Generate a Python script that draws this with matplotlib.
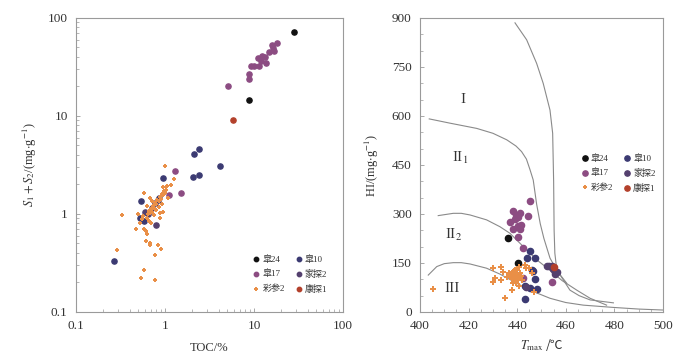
import matplotlib.pyplot as plt
import numpy as np
from matplotlib.ticker import LogLocator, MultipleLocator, NullFormatter
from matplotlib.offsetbox import TextArea, HPacker, AnchoredOffsetbox

plt.rcParams['font.family'] = ['Liberation Serif', 'Noto Sans CJK SC', 'DejaVu Sans']
plt.rcParams['mathtext.fontset'] = 'stix'

# ---- left panel: TOC (%) vs S1+S2 (mg/g) ----
toc_z24 = [28.4, 8.8]
s12_z24 = [72, 14.7]
toc_z10 = [2.1, 2.41, 4.1, 2.07, 2.39, 0.95, 0.54, 0.27, 0.53, 0.84, 0.86, 0.58]
s12_z10 = [4.06, 4.64, 3.09, 2.39, 2.48, 2.32, 1.37, 0.33, 0.9, 1.39, 1.45, 0.85]
toc_z17 = [5.06, 8.7, 8.85, 9.3, 10.1, 11.4, 11.0, 12.0, 12.3, 13.3, 13.8, 14.6,
           15.8, 16.2, 16.8, 18.0, 1.28, 1.5, 1.12]
s12_z17 = [20.2, 23.9, 27, 32.6, 32, 32.6, 38.8, 36.4, 41.2, 40.3, 34.8, 45,
           53.5, 49, 46.4, 55.6, 2.77, 1.63, 1.55]
toc_jt2 = [0.6, 0.71, 0.77, 0.8, 0.65]
s12_jt2 = [1.05, 1.14, 1.29, 0.77, 1.0]
toc_cs2 = [1.0, 1.27, 1.18, 1.03, 0.96, 1.06, 0.58, 1.09, 0.33, 0.29, 0.47, 0.58,
           0.61, 0.63, 0.61, 0.68, 0.68, 0.83, 0.91, 0.78, 0.58, 0.54, 0.78, 0.50,
           0.52, 0.885, 0.96, 0.87, 0.55, 0.57, 0.62, 0.64, 0.66, 0.68, 0.70, 0.72,
           0.74, 0.76, 0.78, 0.80, 0.82, 0.85, 0.88, 0.90, 0.93, 0.95, 0.98, 1.00,
           0.72, 0.66, 0.80, 0.75, 0.85, 0.92, 1.02, 0.70, 0.62, 0.68]
s12_cs2 = [3.07, 2.30, 1.98, 1.90, 1.87, 1.92, 1.63, 1.45, 0.97, 0.43, 0.71, 0.70,
           0.67, 0.62, 0.53, 0.51, 0.48, 0.48, 0.44, 0.38, 0.27, 0.22, 0.21, 0.99,
           0.81, 1.03, 1.05, 0.90, 0.88, 0.95, 0.92, 1.00, 1.08, 1.02, 1.12, 1.05,
           1.20, 1.15, 1.30, 1.25, 1.40, 1.35, 1.50, 1.42, 1.60, 1.55, 1.70, 1.62,
           1.35, 0.85, 1.10, 0.98, 1.18, 1.25, 1.75, 0.80, 1.20, 1.45]
toc_kt1 = [5.8]
s12_kt1 = [9.0]

# ---- right panel: Tmax (C) vs HI (mg/g) ----
tmax_z24 = [436.1, 440.2]
hi_z24 = [226, 151]
tmax_z10 = [445.3, 444.2, 447.3, 446.2, 447.3, 443.2, 445.3, 448.3, 443.2, 446.5]
hi_z10 = [187, 164, 164, 129, 101, 81, 73, 70, 41, 125]
tmax_z17 = [445.3, 438.1, 441.2, 444.3, 439.3, 437.2, 440.5, 438.1, 440.2, 442.3,
            454.2, 442.5, 440.5, 441.5, 439.6, 441.0]
hi_z17 = [340, 308, 304, 293, 286, 275, 262, 253, 231, 195,
          93, 103, 290, 266, 297, 255]
tmax_jt2 = [452.1, 453.0, 454.2, 455.6, 455.6, 456.3, 454.8, 443.5]
hi_jt2 = [141, 141, 141, 123, 116, 123, 132, 78]
tmax_cs2 = [405.2, 430.2, 433.3, 431.0, 430.2, 434.3, 435.7, 433.2, 437.9, 434.9,
            439.8, 440.9, 443.2, 443.5, 444.9, 446.0, 447.0, 438.4, 437.5, 438.0,
            438.8, 439.2, 439.6, 440.0, 438.5, 439.0, 440.3, 439.4, 441.0, 442.0,
            438.2, 441.5, 436.8, 440.6]
hi_cs2 = [70, 136, 139, 103, 93, 121, 108, 98, 67, 42,
          129, 139, 144, 134, 134, 118, 62, 108, 115, 100,
          105, 120, 95, 112, 125, 130, 103, 88, 120, 98,
          90, 110, 118, 80]
tmax_kt1 = [455.3]
hi_kt1 = [139]

# kerogen type boundary curves
bnd_v_t = [439.1, 443.9, 448.0, 450.7, 453.5, 454.6, 455.0, 455.2, 455.5, 456.3,
           459.0, 461.7, 465.5, 470.0, 479.6]
bnd_v_hi = [885, 833, 761, 700, 618, 547, 400, 250, 180, 129, 98, 67, 50, 37, 28]
bnd_1_t = [403.8, 412.3, 423.3, 430.0, 435.7, 439.5, 441.8, 443.8, 445.3, 446.6,
           448.0, 449.5, 451.0, 453.5, 456.5, 460.4]
bnd_1_hi = [591, 578, 562, 547, 527, 508, 491, 468, 435, 404,
            330, 270, 225, 165, 125, 88]
bnd_2_t = [407.5, 413.7, 417.0, 420.6, 427.4, 432.9, 437.0, 443.9, 448.5, 453.5,
           458.5, 464.5, 470.0, 476.8]
bnd_2_hi = [295, 302, 302, 297, 282, 261, 241, 190, 157, 128, 96, 67, 42, 21]
bnd_3_t = [403.4, 406.9, 410.0, 413.7, 417.0, 420.6, 427.4, 432.9, 439.8, 446.5,
           453.5, 460.0, 467.2, 479.6, 490.0, 500]
bnd_3_hi = [113, 139, 148, 151, 151, 147, 134, 116, 88, 63, 42, 29, 21, 14, 9, 6]

type_labels = ['I', r'II$_1$', r'II$_2$', 'III']
type_t = [417.8, 416.5, 413.7, 413.4]
type_hi = [649, 470, 236, 72]

c_z24 = '#111111'
c_z10 = '#3b3a72'
c_z17 = '#8c4c82'
c_jt2 = '#54406e'
c_cs2 = '#e98f47'
c_kt1 = '#b3402b'
line_c = '#8a8a8a'
spine_c = '#9a9a9a'
txt_c = '#333333'

fig = plt.figure(figsize=(7, 3.56), dpi=100)
ax1 = fig.add_axes([0.1086, 0.1236, 0.3814, 0.826])
ax2 = fig.add_axes([0.6, 0.1236, 0.3471, 0.826])

ms = 14
ax1.scatter(toc_z24, s12_z24, s=ms, c=c_z24, label='皐24', zorder=3)
ax1.scatter(toc_z17, s12_z17, s=ms, c=c_z17, label='皐17', zorder=3)
ax1.scatter(toc_cs2, s12_cs2, s=9, c=c_cs2, marker='P', linewidths=0, label='彩参2', zorder=4)
ax1.scatter(toc_z10, s12_z10, s=ms, c=c_z10, label='皐10', zorder=3)
ax1.scatter(toc_jt2, s12_jt2, s=ms, c=c_jt2, label='家探2', zorder=3)
ax1.scatter(toc_kt1, s12_kt1, s=ms, c=c_kt1, label='康探1', zorder=3)

ax1.set_xscale('log')
ax1.set_yscale('log')
ax1.set_xlim(0.1, 100)
ax1.set_ylim(0.1, 100)
ax1.set_xticks([0.1, 1, 10, 100])
ax1.set_xticklabels(['0.1', '1', '10', '100'])
ax1.set_yticks([0.1, 1, 10, 100])
ax1.set_yticklabels(['0.1', '1', '10', '100'])
ax1.xaxis.set_minor_locator(LogLocator(base=10, subs=np.arange(2, 10)))
ax1.yaxis.set_minor_locator(LogLocator(base=10, subs=np.arange(2, 10)))
ax1.xaxis.set_minor_formatter(NullFormatter())
ax1.yaxis.set_minor_formatter(NullFormatter())
ax1.set_xlabel('TOC/%', fontsize=9, color=txt_c, labelpad=7)
ax1.set_ylabel(r'$S_1+S_2$/(mg$\cdot$g$^{-1}$)', fontsize=9, color=txt_c, labelpad=6)

for bt, bh in [(bnd_v_t, bnd_v_hi), (bnd_1_t, bnd_1_hi),
               (bnd_2_t, bnd_2_hi), (bnd_3_t, bnd_3_hi)]:
    ax2.plot(bt, bh, color=line_c, lw=0.8, solid_joinstyle='round')
for lab, t, h in zip(type_labels, type_t, type_hi):
    ax2.text(t, h, lab, fontsize=11, color=txt_c, ha='center', va='center')

ms2 = 20
ax2.scatter(tmax_z24, hi_z24, s=ms2, c=c_z24, label='皐24', zorder=3)
ax2.scatter(tmax_z17, hi_z17, s=ms2, c=c_z17, label='皐17', zorder=3)
ax2.scatter(tmax_cs2, hi_cs2, s=13, c=c_cs2, marker='P', linewidths=0, label='彩参2', zorder=4)
ax2.scatter(tmax_z10, hi_z10, s=ms2, c=c_z10, label='皐10', zorder=3)
ax2.scatter(tmax_jt2, hi_jt2, s=ms2, c=c_jt2, label='家探2', zorder=3)
ax2.scatter(tmax_kt1, hi_kt1, s=ms2, c=c_kt1, label='康探1', zorder=5)

ax2.set_xlim(400, 500)
ax2.set_ylim(0, 900)
ax2.set_xticks(np.arange(400, 501, 20))
ax2.set_yticks(np.arange(0, 901, 150))
ax2.xaxis.set_minor_locator(MultipleLocator(5))
ax2.yaxis.set_minor_locator(MultipleLocator(50))
ax2.set_ylabel(r'HI/(mg$\cdot$g$^{-1}$)', fontsize=9, color=txt_c, labelpad=8)

# x label of the right panel: mathtext part + plain part with the ℃ sign
lab_math = TextArea(r'$T_{\rm max}$', textprops=dict(fontsize=9, color=txt_c))
lab_unit = TextArea('/℃', textprops=dict(fontsize=9, color=txt_c,
                                          family=['Noto Sans CJK SC', 'DejaVu Sans']))
xlab = AnchoredOffsetbox(loc='center', child=HPacker(children=[lab_math, lab_unit],
                                                       align='baseline', pad=0, sep=1),
                         frameon=False, bbox_to_anchor=(0.5, -0.115),
                         bbox_transform=ax2.transAxes, borderpad=0, pad=0)
ax2.add_artist(xlab)

for ax in (ax1, ax2):
    for sp in ax.spines.values():
        sp.set_color(spine_c)
        sp.set_linewidth(0.8)
    ax.tick_params(which='both', direction='in', colors=spine_c, labelcolor=txt_c,
                   labelsize=9.5)
    ax.tick_params(which='major', length=3, width=0.6, pad=6)
    ax.tick_params(which='minor', length=2, width=0.5)

leg_kw = dict(ncol=2, loc='center left', frameon=False, fontsize=6.5,
              handletextpad=0.1, columnspacing=0.9, labelspacing=0.65, borderpad=0,
              borderaxespad=0, handlelength=1.2, scatterpoints=1, markerscale=0.85)
leg1 = ax1.legend(bbox_to_anchor=(0.655, 0.128), **leg_kw)
leg2 = ax2.legend(bbox_to_anchor=(0.655, 0.472), **leg_kw)
for leg in (leg1, leg2):
    for t in leg.get_texts():
        t.set_color(txt_c)

fig.savefig('out.png', dpi=100, facecolor='white')
